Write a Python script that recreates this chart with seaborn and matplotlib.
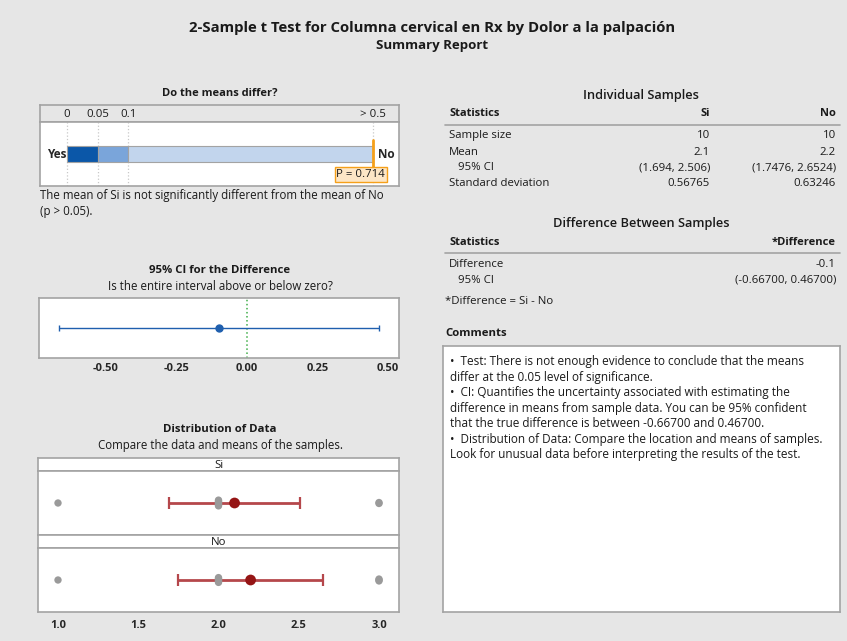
import numpy as np
import pandas as pd
import matplotlib
matplotlib.use("Agg")
import matplotlib.pyplot as plt
import seaborn as sns

# ---- data ----
groups = ["Si", "No"]
si_values = [1, 2, 2, 2, 2, 2, 2, 2, 3, 3]
no_values = [1, 2, 2, 2, 2, 2, 2, 3, 3, 3]
means = [2.1, 2.2]
ci_low = [1.694, 1.7476]
ci_high = [2.506, 2.6524]

diff = -0.1
diff_ci = [-0.667, 0.467]
p_value = 0.714
p_breaks = [0, 0.05, 0.1, 0.5]
p_labels = ["0", "0.05", "0.1", "> 0.5"]

stat_rows = ["Sample size", "Mean", "95% CI", "Standard deviation"]
si_col = ["10", "2.1", "(1.694, 2.506)", "0.56765"]
no_col = ["10", "2.2", "(1.7476, 2.6524)", "0.63246"]
diff_rows = ["Difference", "95% CI"]
diff_col = ["-0.1", "(-0.66700, 0.46700)"]

comments = [
    "\u2022  Test: There is not enough evidence to conclude that the means",
    "differ at the 0.05 level of significance.",
    "\u2022  CI: Quantifies the uncertainty associated with estimating the",
    "difference in means from sample data. You can be 95% confident",
    "that the true difference is between -0.66700 and 0.46700.",
    "\u2022  Distribution of Data: Compare the location and means of samples.",
    "Look for unusual data before interpreting the results of the test.",
]

# ---- style ----
sns.set_style("white")
plt.rcParams["font.family"] = ["Open Sans", "DejaVu Sans"]

BG = "#e6e6e6"
EDGE = "#a3a3a3"
W, H = 847, 641
fig = plt.figure(figsize=(W / 100, H / 100), dpi=100, facecolor=BG)


def px_axes(x0, y0, x1, y1):
    ax = fig.add_axes([x0 / W, 1 - y1 / H, (x1 - x0) / W, (y1 - y0) / H])
    for s in ax.spines.values():
        s.set_color(EDGE)
        s.set_linewidth(1.2)
    return ax


def ftext(x, y, s, **kw):
    kw.setdefault("va", "center")
    kw.setdefault("color", "#1a1a1a")
    fig.text(x / W, 1 - y / H, s, **kw)


# titles
ftext(432, 28, "2-Sample t Test for Columna cervical en Rx by Dolor a la palpación",
      ha="center", fontsize=10.7, fontweight="bold")
ftext(432, 46, "Summary Report", ha="center", fontsize=9.5, fontweight="bold")

# ---- Do the means differ? ----
ftext(220, 93, "Do the means differ?", ha="center", fontsize=8, fontweight="bold")
pos = np.interp(p_breaks, p_breaks, [0, 1, 2, 10])
xl = (-27 / 30.5, 10 + 26 / 30.5)

axh = px_axes(40, 105, 399, 122)
axh.set_facecolor(BG)
axh.set_xlim(xl)
axh.set_ylim(0, 1)
axh.set_xticks([])
axh.set_yticks([])
for p, lab in zip(pos, p_labels):
    axh.text(p, 0.45, lab, ha="center", va="center", fontsize=8.2, color="#1a1a1a")

axp = px_axes(40, 122, 399, 186)
axp.set_facecolor("white")
axp.set_xlim(xl)
axp.set_ylim(-1, 1)
axp.set_xticks([])
axp.set_yticks([])
seg_colors = ["#0b57a8", "#7aa5da", "#c2d5ed"]
for i in range(3):
    axp.barh(0, pos[i + 1] - pos[i], left=pos[i], height=0.5,
             color=seg_colors[i], edgecolor=EDGE, linewidth=0.8, zorder=2)
for p in pos:
    axp.axvline(p, color="#c8c8c8", linestyle=":", linewidth=0.9, zorder=1)
p_pos = np.interp(min(p_value, p_breaks[-1]), p_breaks, pos)
axp.plot([p_pos, p_pos], [0.45, -0.4], color="#f5a01a", linewidth=2, zorder=3)
axp.text(p_pos - 0.4, -0.64, f"P = {p_value:.3f}", ha="center", va="center",
         fontsize=8.2, color="#1a1a1a",
         bbox=dict(boxstyle="square,pad=0.15", facecolor="#fde6c6",
                   edgecolor="#f5a01a", linewidth=1))
axp.text(-0.03, 0, "Yes", ha="right", va="center", fontsize=8.5, fontweight="bold")
axp.text(10.16, 0, "No", ha="left", va="center", fontsize=8.5, fontweight="bold")

ftext(40, 195, "The mean of Si is not significantly different from the mean of No",
      fontsize=8.3)
ftext(40, 211, "(p > 0.05).", fontsize=8.3)

# ---- 95% CI for the Difference ----
ftext(220, 271, "95% CI for the Difference", ha="center", fontsize=8.2, fontweight="bold")
ftext(220, 286, "Is the entire interval above or below zero?", ha="center", fontsize=8.3)
axc = px_axes(39, 298, 399, 358)
axc.set_facecolor("white")
axc.axvline(0, color="#3fae49", linestyle=":", linewidth=1.1)
axc.errorbar([diff], [0], xerr=[[diff - diff_ci[0]], [diff_ci[1] - diff]],
             fmt="o", color="#1f5fae", markersize=5, elinewidth=1,
             capsize=2.5, capthick=1)
axc.set_xlim(-0.5 - 67 / 282, 0.5 + 11 / 282)
axc.set_ylim(-1, 1)
axc.set_yticks([])
axc.set_xticks([-0.5, -0.25, 0, 0.25, 0.5])
axc.set_xticklabels(["-0.50", "-0.25", "0.00", "0.25", "0.50"])
axc.tick_params(axis="x", length=0, pad=3.5, labelsize=8)
for t in axc.get_xticklabels():
    t.set_fontweight("bold")

# ---- Distribution of Data ----
ftext(220, 430, "Distribution of Data", ha="center", fontsize=8.2, fontweight="bold")
ftext(220, 445, "Compare the data and means of the samples.", ha="center", fontsize=8.3)

df = pd.DataFrame({
    "value": si_values + no_values,
    "group": ["Si"] * len(si_values) + ["No"] * len(no_values),
})
# small vertical offset so repeated values stack like Minitab does
rank = df.groupby(["group", "value"]).cumcount()
count = df.groupby(["group", "value"])["value"].transform("size")
df["offset"] = (rank - (count - 1) / 2) * 0.03

dist_xlim = (1.0 - 20 / 160.5, 3.0 + 20 / 160.5)
panels = [(458, 471, 535), (535, 548, 612)]
for gi, (g, (y_strip, y0, y1)) in enumerate(zip(groups, panels)):
    axs = px_axes(38, y_strip, 399, y0)
    axs.set_facecolor("white")
    axs.set_xticks([])
    axs.set_yticks([])
    axs.text(0.5, 0.45, g, ha="center", va="center", fontsize=8.2,
             transform=axs.transAxes, color="#1a1a1a")

    axd = px_axes(38, y0, 399, y1)
    axd.set_facecolor("white")
    axd.errorbar([means[gi]], [0],
                 xerr=[[means[gi] - ci_low[gi]], [ci_high[gi] - means[gi]]],
                 fmt="none", ecolor="#b5474b", elinewidth=2, capsize=4.3,
                 capthick=1.6, zorder=2)
    sns.scatterplot(data=df[df["group"] == g], x="value", y="offset", ax=axd,
                    color="#9a9a9a", s=28, edgecolor="none", zorder=3, legend=False)
    sns.scatterplot(x=[means[gi]], y=[0], ax=axd, color="#951515", s=60,
                    edgecolor="none", zorder=4, legend=False)
    axd.set_xlim(dist_xlim)
    axd.set_ylim(-1, 1)
    axd.set_yticks([])
    axd.set_xlabel("")
    axd.set_ylabel("")
    if gi == 1:
        axd.set_xticks([1.0, 1.5, 2.0, 2.5, 3.0])
        axd.set_xticklabels(["1.0", "1.5", "2.0", "2.5", "3.0"])
        axd.tick_params(axis="x", length=0, pad=5.5, labelsize=8)
        for t in axd.get_xticklabels():
            t.set_fontweight("bold")
    else:
        axd.set_xticks([])

# ---- right side tables ----
ftext(641, 95, "Individual Samples", ha="center", fontsize=9.2, fontweight="semibold")
ftext(449, 114, "Statistics", fontsize=8, fontweight="bold")
ftext(710, 114, groups[0], ha="right", fontsize=8, fontweight="bold")
ftext(836, 114, groups[1], ha="right", fontsize=8, fontweight="bold")
fig.add_artist(plt.Line2D([445 / W, 840 / W], [1 - 125 / H] * 2, color=EDGE, linewidth=1.2))
for lab, a, b, y in zip(stat_rows, si_col, no_col, [136, 152, 168, 183]):
    ftext(458 if lab == "95% CI" else 449, y, lab, fontsize=8.2)
    ftext(710, y, a, ha="right", fontsize=8.2)
    ftext(836, y, b, ha="right", fontsize=8.2)

ftext(641, 224, "Difference Between Samples", ha="center", fontsize=9.2, fontweight="semibold")
ftext(449, 242, "Statistics", fontsize=8, fontweight="bold")
ftext(836, 242, "*Difference", ha="right", fontsize=8, fontweight="bold")
fig.add_artist(plt.Line2D([445 / W, 840 / W], [1 - 253 / H] * 2, color=EDGE, linewidth=1.2))
for lab, v, y in zip(diff_rows, diff_col, [265, 280]):
    ftext(458 if lab == "95% CI" else 449, y, lab, fontsize=8.2)
    ftext(836, y, v, ha="right", fontsize=8.2)
ftext(445, 302, "*Difference = Si - No", fontsize=8.2)

ftext(445, 333, "Comments", fontsize=8.2, fontweight="bold")
axm = px_axes(443, 346, 840, 612)
axm.set_facecolor("white")
axm.set_xticks([])
axm.set_yticks([])
for i, line in enumerate(comments):
    ftext(450, 362 + i * 15.4, line, fontsize=8.45)

fig.savefig("out.png", dpi=100, facecolor=BG)
